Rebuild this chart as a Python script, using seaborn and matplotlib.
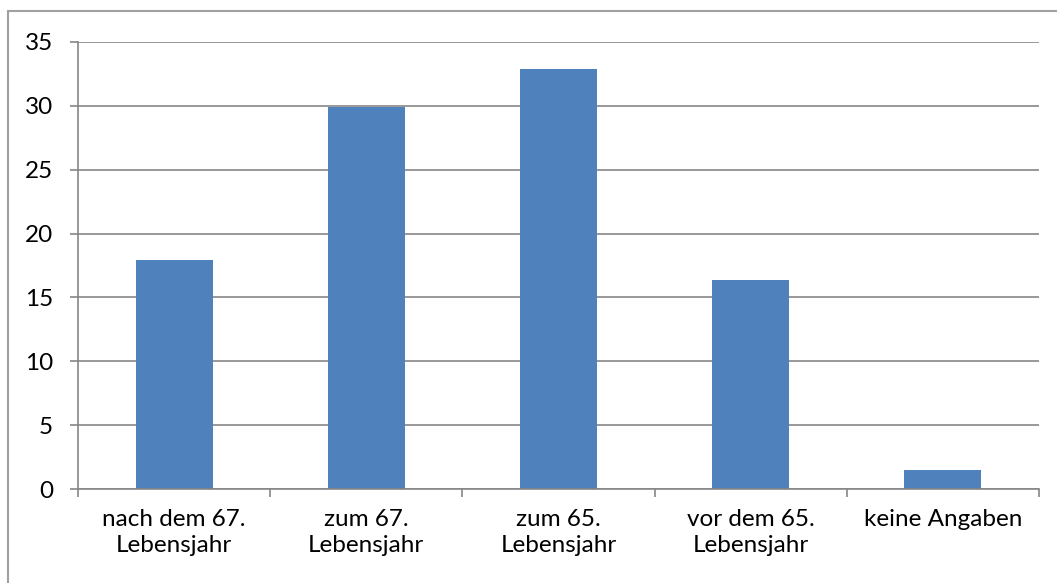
import matplotlib
matplotlib.use("Agg")
import matplotlib.pyplot as plt
import seaborn as sns
import pandas as pd
from matplotlib.patches import Rectangle

categories = ["nach dem 67.\nLebensjahr", "zum 67.\nLebensjahr", "zum 65.\nLebensjahr",
              "vor dem 65.\nLebensjahr", "keine Angaben"]
values = [17.9, 29.9, 32.9, 16.4, 1.5]
y_ticks = [0, 5, 10, 15, 20, 25, 30, 35]

sns.set_theme(style="white")
plt.rcParams["font.family"] = ["Lato", "DejaVu Sans"]

df = pd.DataFrame({"Kategorie": categories, "Wert": values})

fig = plt.figure(figsize=(10.57, 5.83), dpi=100)
ax = fig.add_axes([0.0738, 0.1607, 0.9092, 0.7678])

sns.barplot(data=df, x="Kategorie", y="Wert", color="#4F81BD", saturation=1,
            width=0.4, ax=ax, edgecolor="none")

grid_color = "#868686"
ax.set_ylim(0, 35)
ax.set_xlim(-0.5, len(categories) - 0.5)
ax.set_yticks(y_ticks)
ax.yaxis.grid(True, color=grid_color, linewidth=1.2)
ax.set_axisbelow(True)
ax.set_xlabel("")
ax.set_ylabel("")

for side in ["top", "right"]:
    ax.spines[side].set_visible(False)
for side in ["left", "bottom"]:
    ax.spines[side].set_color(grid_color)
    ax.spines[side].set_linewidth(1.2)

# category labels centred under bars, tick marks on category boundaries
ax.set_xticks(range(len(categories)))
ax.set_xticklabels(categories, fontsize=17.5, linespacing=1.3, color="black")
ax.tick_params(axis="x", length=0, pad=14)
ax.set_xticks([i - 0.5 for i in range(len(categories) + 1)], minor=True)
ax.tick_params(axis="x", which="minor", length=6, width=1.2, color=grid_color,
               direction="out", bottom=True)
ax.tick_params(axis="y", length=6, width=1.2, color=grid_color, direction="out",
               left=True, labelsize=17.5, labelcolor="black", pad=12)

# chart area border
fig.patches.append(Rectangle((8 / 1057, -0.1), 1.2, 1 - 11 / 583 + 0.1,
                             transform=fig.transFigure, fill=False,
                             edgecolor="#A0A0A0", linewidth=1.5))

fig.savefig("out.png", dpi=100)
